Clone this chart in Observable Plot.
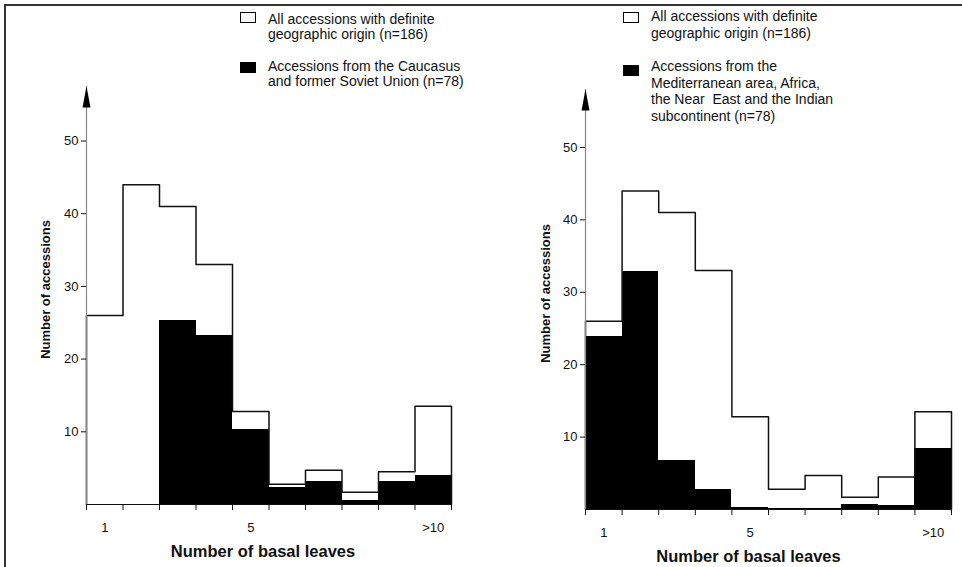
<!DOCTYPE html>
<html><head><meta charset="utf-8">
<script src="https://cdn.jsdelivr.net/npm/d3@7"></script>
<script src="https://cdn.jsdelivr.net/npm/@observablehq/plot@0.6"></script>
<style>
body{margin:0;background:#fff;}
#wrap{position:relative;width:962px;height:567px;overflow:hidden;font-family:"Liberation Sans",Arial,sans-serif;background:#fff;}
.frame{position:absolute;left:4px;top:4px;width:990px;height:600px;border-top:2px solid #333;border-left:2px solid #333;}
.panel{position:absolute;top:0;}
.leg{position:absolute;font-size:14px;color:#111;white-space:nowrap;}
.sw{position:absolute;width:14px;height:9px;border:1px solid #000;box-sizing:content-box;}
</style></head>
<body><div id="wrap"><div class="frame"></div></div>
<script>
// ---- data ----
const categories = ["1","2","3","4","5","6","7","8","9",">10"];
const tickLabels = ["1","5",">10"];
const yTicks = [10,20,30,40,50];
const allAccessions = [26, 44, 41, 33, 12.8, 2.8, 4.7, 1.7, 4.5, 13.5];
const caucasus = [0, 0, 25.3, 23.3, 10.3, 2.3, 3.2, 0.5, 3.1, 4];
const mediterranean = [23.9, 32.9, 6.7, 2.7, 0.3, 0.15, 0.15, 0.7, 0.6, 8.4];
const xTitle = "Number of basal leaves";
const yTitle = "Number of accessions";
const legendAll = ["All accessions with definite", "geographic origin (n=186)"];
const legendLeft = ["Accessions from the Caucasus", "and former Soviet Union (n=78)"];
const legendRight = ["Accessions from the", "Mediterranean area, Africa,", "the Near  East and the Indian", "subcontinent (n=78)"];

const wrap = document.getElementById("wrap");

const arrowHead = { draw(ctx) { ctx.moveTo(0, 0); ctx.lineTo(-4, 21); ctx.lineTo(4, 21); ctx.closePath(); } };

function panel(o) {
  const n = categories.length;
  const rows = categories.map((c, i) => ({i, cat: c, all: allAccessions[i], sub: o.subset[i]}));
  const outline = [{x: 0, y: 0}, ...rows.map(r => ({x: r.i, y: r.all})), {x: n, y: allAccessions[n - 1]}, {x: n, y: 0}];
  const chart = Plot.plot({
    width: o.width, height: 567,
    marginLeft: o.ml, marginRight: o.mr, marginTop: o.mt, marginBottom: o.mb,
    x: {domain: [0, n]},
    y: {domain: [0, o.yTop]},
    style: {fontFamily: "Liberation Sans, Arial, sans-serif", fontSize: "13px", background: "transparent", overflow: "visible", color: "#111"},
    marks: [
      Plot.rect(rows, {x1: "i", x2: d => d.i + 1, y1: () => 0, y2: "all", fill: "white", shapeRendering: "crispEdges"}),
      Plot.ruleY([0], {stroke: "#111", strokeWidth: 1.2}),
      Plot.rect(rows, {x1: "i", x2: d => d.i + 1, y1: () => 0, y2: "sub", fill: "black", shapeRendering: "crispEdges"}),
      Plot.line(outline, {x: "x", y: "y", curve: "step-after", stroke: "#111", strokeWidth: 1.5}),
      Plot.ruleX([0], {y1: () => 0, y2: () => o.yTop, stroke: "#888", strokeWidth: 1.2}),
      Plot.dot([o.yTop], {x: () => 0, y: d => d, symbol: arrowHead, fill: "black", stroke: "none", r: 5}),
      Plot.axisY(yTicks, {tickSize: 5, tickPadding: 3, fontSize: 13, label: null}),
      Plot.axisX(d3.range(0, n + 1), {tickSize: 6, tickFormat: () => "", label: null}),
      Plot.axisX(tickLabels.map(l => categories.indexOf(l) + 0.5), {tickSize: 0, tickPadding: 18, fontSize: 13, tickFormat: v => categories[Math.floor(v)], label: null}),
      Plot.text([xTitle], {frameAnchor: "bottom", lineAnchor: "middle", dy: 47, dx: o.tdx, fontSize: 16.5, fontWeight: "bold"}),
      Plot.text([yTitle], {frameAnchor: "left", textAnchor: "middle", rotate: -90, dx: o.ydx, dy: -6, fontSize: 13, fontWeight: "bold"})
    ]
  });
  chart.classList.add("panel");
  chart.style.left = o.left + "px";
  wrap.appendChild(chart);
}

panel({left: 0, width: 481, ml: 86, mr: 30, mt: 86, mb: 63, yTop: 57.5, subset: caucasus, tdx: -6, ydx: -41});
panel({left: 480, width: 482, ml: 105, mr: 11, mt: 89, mb: 58, yTop: 58, subset: mediterranean, tdx: -20, ydx: -40});

function legend(x, swTop, textTop, fill, lines, lh) {
  const sw = document.createElement("div");
  sw.className = "sw";
  sw.style.left = x + "px"; sw.style.top = swTop + "px"; sw.style.background = fill;
  wrap.appendChild(sw);
  const t = document.createElement("div");
  t.className = "leg";
  t.style.left = (x + 28) + "px"; t.style.top = textTop + "px"; t.style.lineHeight = lh + "px";
  t.innerHTML = lines.map(s => s.replace(/ {2}/g, " &nbsp;")).join("<br>");
  wrap.appendChild(t);
}
legend(240, 12, 12, "white", legendAll, 14.5);
legend(240, 62, 59, "black", legendLeft, 15);
legend(623, 12, 8, "white", legendAll, 16.5);
legend(623, 65, 58, "black", legendRight, 16.7);
</script>
</body></html>
